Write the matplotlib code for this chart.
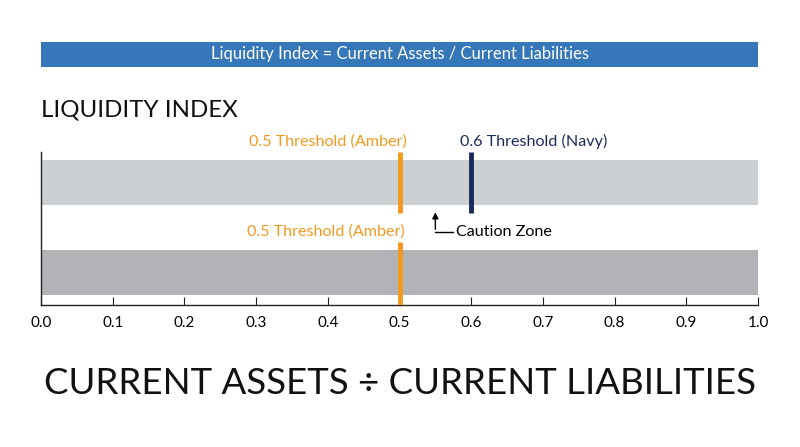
import matplotlib
matplotlib.use("Agg")
import matplotlib.pyplot as plt
from matplotlib.patches import Rectangle

plt.rcParams['font.family'] = ['Lato', 'DejaVu Sans']

# data
bar_rows = [0, 1]              # 0 = bottom bar, 1 = top bar
bar_values = [1.0, 1.0]
bar_colors = ['#b1b3b6', '#cdd0d3']
amber_threshold = 0.5
navy_threshold = 0.6
caution_x = 0.55
x_ticks = [0.0, 0.1, 0.2, 0.3, 0.4, 0.5, 0.6, 0.7, 0.8, 0.9, 1.0]
x_tick_labels = ['0.0', '0.1', '0.2', '0.3', '0.4', '0.5', '0.6', '0.7', '0.8', '0.9', '1.0']

AMBER = '#f39a1e'
NAVY = '#1b2a5c'

fig = plt.figure(figsize=(8, 4.47), dpi=100)
fig.patch.set_facecolor('white')

# banner
fig.patches.append(Rectangle((41/800, (447-67)/447), 717/800, 25/447,
                             transform=fig.transFigure, facecolor='#3577b9',
                             edgecolor='none', zorder=0))
fig.text(400/800, (447-54.5)/447, 'Liquidity Index = Current Assets / Current Liabilities',
         ha='center', va='center', color='white', fontsize=12)

fig.text(41/800, (447-110)/447, 'LIQUIDITY INDEX', ha='left', va='center',
         fontsize=17.3, color='#111111')

fig.text(400/800, (447-384)/447, 'CURRENT ASSETS ÷ CURRENT LIABILITIES',
         ha='center', va='center', fontsize=26.4, color='#111111')

ax = fig.add_axes([41/800, (447-305)/447, 717/800, 153/447])
ax.barh(bar_rows, bar_values, height=0.5, color=bar_colors, left=0, zorder=1)
ax.set_xlim(0, 1)
ax.set_ylim(-0.361, 1.339)

# thresholds
ax.vlines(amber_threshold, 0.66, 1.339, color=AMBER, lw=3.5, zorder=3)
ax.vlines(amber_threshold, -0.361, 0.339, color=AMBER, lw=3.5, zorder=3)
ax.vlines(navy_threshold, 0.66, 1.339, color=NAVY, lw=3.5, zorder=3)

ax.text(amber_threshold + 0.01, 1.46, '0.5 Threshold (Amber)', color=AMBER,
        ha='right', va='center', fontsize=11.6, clip_on=False)
ax.text(navy_threshold - 0.015, 1.46, '0.6 Threshold (Navy)', color=NAVY,
        ha='left', va='center', fontsize=11.6, clip_on=False)
ax.text(amber_threshold + 0.008, 0.45, '0.5 Threshold (Amber)', color=AMBER,
        ha='right', va='center', fontsize=11.6)

# caution zone annotation
ax.plot([caution_x + 0.025, caution_x], [0.45, 0.45], color='black', lw=1)
ax.annotate('', xy=(caution_x, 0.7), xytext=(caution_x, 0.45),
            arrowprops=dict(arrowstyle='-|>', color='black', lw=1, mutation_scale=9))
ax.text(caution_x + 0.029, 0.45, 'Caution Zone', color='black', ha='left',
        va='center', fontsize=11.6)

for s in ['top', 'right']:
    ax.spines[s].set_visible(False)
for s in ['left', 'bottom']:
    ax.spines[s].set_color('#222222')
    ax.spines[s].set_linewidth(1)
ax.set_yticks([])
ax.set_xticks(x_ticks)
ax.set_xticklabels(x_tick_labels, fontsize=11)
ax.tick_params(axis='x', direction='in', length=6, pad=8, color='#222222')
ax.set_facecolor('white')

fig.savefig('out.png', dpi=100, facecolor='white')
